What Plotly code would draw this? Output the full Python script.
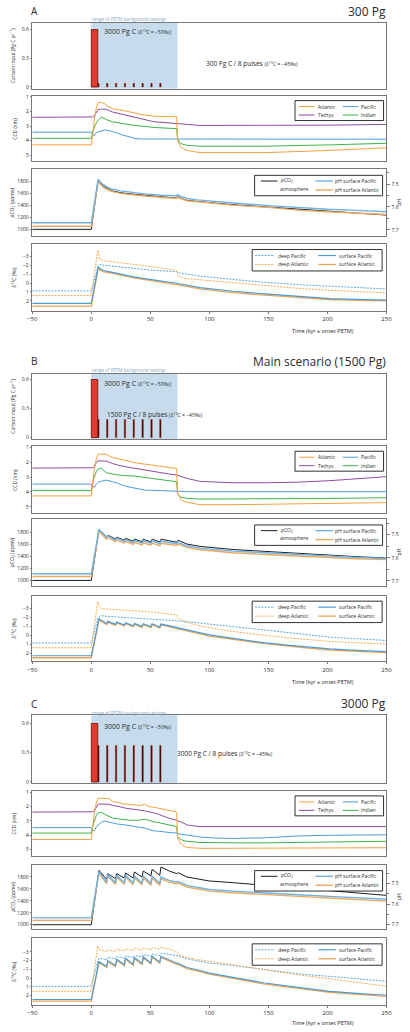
import plotly.graph_objects as go

# ============================ DATA ============================
X_TICKS = [-50, 0, 50, 100, 150, 200, 250]
BG_RANGE = [0, 73]                      # range of PETM background settings (kyr)
MAIN_PULSE_T = [2.75]                    # main 3000 Pg C pulse centre (kyr)
MAIN_PULSE_DUR = [5.5]
MAIN_PULSE_RATE = [0.6]
PULSE_T = [6, 13.5, 21, 28.5, 36, 43.5, 51, 58.5]
PULSE_DUR = [1.2, 1.2, 1.2, 1.2, 1.2, 1.2, 1.2, 1.2]
A_PULSE_RATE = [0.0375, 0.0375, 0.0375, 0.0375, 0.0375, 0.0375, 0.0375, 0.0375]
B_PULSE_RATE = [0.1875, 0.1875, 0.1875, 0.1875, 0.1875, 0.1875, 0.1875, 0.1875]
C_PULSE_RATE = [0.375, 0.375, 0.375, 0.375, 0.375, 0.375, 0.375, 0.375]

# ---------- Panel A (300 Pg) ----------
A_T_CCD = [-50, 0, 1, 2.5, 4.4, 5.8, 8.5, 11.3, 12.6, 18, 26, 29, 35, 37, 43, 46, 51, 54, 65, 72.3, 73.1, 75.8, 78.6, 81.3, 92, 147, 202, 250]
A_CCD_ATL = [4.29, 4.29, 3.7, 2.6, 1.7, 1.40, 1.40, 1.45, 1.56, 1.82, 1.92, 1.96, 2.06, 2.11, 2.22, 2.27, 2.31, 2.33, 2.35, 2.36, 4.0, 4.44, 4.6, 4.67, 4.82, 4.82, 4.67, 4.49]
A_CCD_TET = [2.40, 2.40, 2.38, 2.3, 2.0, 1.87, 1.84, 1.84, 1.86, 2.04, 2.2, 2.27, 2.36, 2.40, 2.55, 2.6, 2.67, 2.71, 2.8, 2.82, 2.83, 2.85, 2.87, 2.89, 2.96, 2.96, 2.94, 2.89]
A_CCD_IND = [3.84, 3.84, 3.5, 3.1, 2.78, 2.6, 2.38, 2.5, 2.56, 2.71, 2.84, 2.89, 2.94, 2.96, 3.02, 3.05, 3.07, 3.1, 3.15, 3.18, 3.9, 4.2, 4.27, 4.32, 4.38, 4.38, 4.29, 4.18]
A_CCD_PAC = [3.42, 3.42, 3.56, 3.67, 3.44, 3.40, 3.36, 3.27, 3.28, 3.38, 3.6, 3.68, 3.82, 3.85, 3.89, 3.89, 3.89, 3.89, 3.89, 3.89, 3.9, 3.91, 3.9, 3.9, 3.9, 3.9, 3.9, 3.9]

A_T_P = [-50, 0, 5.8, 8, 10, 14, 18, 25, 30, 37, 45, 51, 60, 72, 73, 75, 81, 90, 100, 120, 150, 175, 200, 225, 250]
A_PCO2 = [1000, 1000, 1823, 1770, 1728, 1680, 1644, 1615, 1600, 1588, 1575, 1565, 1545, 1526, 1555, 1530, 1487, 1465, 1450, 1414, 1375, 1336, 1305, 1272, 1240]
A_PH_PAC = [7.669, 7.669, 7.480, 7.493, 7.503, 7.515, 7.523, 7.530, 7.534, 7.539, 7.543, 7.545, 7.549, 7.551, 7.546, 7.552, 7.563, 7.569, 7.574, 7.583, 7.594, 7.603, 7.610, 7.615, 7.621]
A_PH_ATL = [7.684, 7.684, 7.490, 7.503, 7.513, 7.525, 7.533, 7.541, 7.545, 7.548, 7.552, 7.555, 7.559, 7.563, 7.556, 7.562, 7.573, 7.578, 7.582, 7.592, 7.602, 7.614, 7.621, 7.628, 7.633]

A_T_DEEP = [-50, 0, 5.5, 7.1, 9.9, 18, 37, 51, 70, 72.3, 73.5, 76, 81, 92, 120, 147, 175, 202, 225, 250]
A_D13_DPAC = [0.88, 0.88, -1.7, -2.06, -2.0, -1.88, -1.58, -1.43, -1.28, -1.25, -1.15, -1.1, -1.0, -0.77, -0.40, -0.07, 0.18, 0.37, 0.52, 0.66]
A_D13_DATL = [1.40, 1.40, -3.68, -2.68, -2.5, -2.35, -2.06, -1.84, -1.45, -1.40, -0.75, -0.62, -0.48, -0.35, 0.0, 0.33, 0.59, 0.81, 0.96, 1.10]
A_T_SURF = [-50, 0, 5.8, 9.9, 18, 37, 51, 72.3, 73.5, 92, 120, 147, 175, 202, 225, 250]
A_D13_SPAC = [2.28, 2.28, -1.76, -1.40, -1.18, -0.66, -0.37, 0.0, 0.05, 0.51, 0.92, 1.21, 1.47, 1.73, 1.82, 1.91]
A_D13_SATL = [2.57, 2.57, -1.58, -1.28, -1.07, -0.55, -0.26, 0.15, 0.2, 0.66, 1.07, 1.36, 1.62, 1.84, 1.93, 1.99]

# ---------- Panel B (main scenario, 1500 Pg) ----------
B_T_CCD = [-50, 0, 1, 2.5, 4.4, 5.8, 8.5, 12.6, 18, 22, 29, 37, 45, 51, 56, 65, 72.3, 73.1, 75.8, 78.6, 81.3, 92, 120, 147, 175, 202, 250]
B_CCD_ATL = [4.27, 4.27, 3.6, 2.5, 1.7, 1.45, 1.45, 1.46, 1.67, 1.75, 1.9, 2.03, 2.12, 2.2, 2.26, 2.34, 2.41, 4.09, 4.5, 4.65, 4.7, 4.86, 4.86, 4.83, 4.8, 4.77, 4.72]
B_CCD_TET = [2.39, 2.39, 2.37, 2.3, 2.0, 1.9, 1.9, 1.92, 2.08, 2.18, 2.3, 2.41, 2.55, 2.59, 2.65, 2.78, 2.86, 2.88, 2.95, 3.02, 3.09, 3.29, 3.38, 3.38, 3.34, 3.24, 2.97]
B_CCD_IND = [3.91, 3.91, 3.5, 3.0, 2.6, 2.45, 2.41, 2.7, 2.79, 2.85, 2.9, 2.93, 3.02, 3.09, 3.15, 3.25, 3.31, 4.14, 4.35, 4.4, 4.43, 4.48, 4.48, 4.48, 4.46, 4.44, 4.39]
B_CCD_PAC = [3.47, 3.47, 3.6, 3.69, 3.45, 3.35, 3.28, 3.2, 3.31, 3.4, 3.62, 3.76, 3.87, 3.89, 3.9, 3.91, 3.91, 3.93, 3.96, 3.97, 3.98, 3.98, 3.98, 3.98, 3.98, 3.98, 3.98]

B_T = [-50, 0, 6.5, 13, 14, 20.5, 21.5, 28, 29, 35.5, 36.5, 43, 44, 50.5, 51.5, 58, 59, 66, 72.3, 73.5, 81, 92, 100, 120, 147, 175, 202, 225, 250]
B_PCO2 = [1000, 1000, 1845, 1728, 1755, 1690, 1720, 1668, 1702, 1652, 1690, 1645, 1685, 1642, 1685, 1640, 1685, 1660, 1638, 1670, 1606, 1567, 1550, 1515, 1484, 1450, 1417, 1395, 1373]
B_PH_PAC = [7.669, 7.669, 7.477, 7.511, 7.504, 7.523, 7.515, 7.529, 7.521, 7.534, 7.525, 7.536, 7.527, 7.537, 7.528, 7.539, 7.529, 7.534, 7.539, 7.533, 7.548, 7.558, 7.562, 7.571, 7.578, 7.586, 7.593, 7.598, 7.603]
B_PH_ATL = [7.681, 7.681, 7.486, 7.519, 7.512, 7.530, 7.523, 7.537, 7.529, 7.542, 7.533, 7.544, 7.535, 7.545, 7.536, 7.547, 7.537, 7.542, 7.547, 7.541, 7.555, 7.565, 7.569, 7.578, 7.586, 7.593, 7.599, 7.604, 7.608]

B_T_DEEP = [-50, 0, 5.5, 8, 13, 20, 28, 36, 44, 51, 59, 66, 72.3, 73.5, 76, 81, 92, 100, 120, 147, 175, 202, 225, 250]
B_D13_DPAC = [0.85, 0.85, -1.9, -2.2, -2.12, -2.05, -2.0, -1.93, -1.87, -1.8, -1.74, -1.68, -1.63, -1.62, -1.58, -1.52, -1.37, -1.27, -1.0, -0.6, -0.19, 0.19, 0.38, 0.56]
B_D13_DATL = [1.37, 1.37, -3.74, -3.0, -2.93, -2.88, -2.83, -2.78, -2.7, -2.6, -2.48, -2.38, -2.26, -1.9, -1.74, -1.45, -1.05, -0.85, -0.44, 0.0, 0.37, 0.67, 0.82, 0.96]
B_D13_SPAC = [2.26, 2.26, -1.85, -1.30, -1.56, -1.22, -1.48, -1.15, -1.41, -1.07, -1.33, -1.0, -1.30, -0.96, -1.30, -0.93, -1.26, -1.05, -0.9, -0.88, -0.65, -0.3, -0.05, 0.33, 0.82, 1.2, 1.5, 1.66, 1.8]
B_D13_SATL = [2.48, 2.48, -1.72, -1.2, -1.45, -1.12, -1.38, -1.05, -1.31, -0.97, -1.23, -0.9, -1.2, -0.86, -1.2, -0.83, -1.16, -0.95, -0.8, -0.76, -0.53, -0.18, 0.07, 0.45, 0.92, 1.3, 1.62, 1.78, 1.92]

# ---------- Panel C (3000 Pg) ----------
C_T_CCD = [-50, 0, 1, 2.5, 4.4, 5.8, 8.5, 11.3, 15, 18, 22, 26, 29, 33, 37, 41, 45, 49, 53, 57, 61, 65, 72.3, 73.1, 75.8, 78.6, 81.3, 92, 105, 120, 147, 175, 202, 250]
C_CCD_ATL = [4.30, 4.30, 3.6, 2.5, 1.7, 1.43, 1.43, 1.44, 1.45, 1.65, 1.75, 1.8, 1.83, 1.88, 1.9, 1.93, 1.85, 2.02, 2.05, 2.12, 2.22, 2.28, 2.39, 4.19, 4.6, 4.75, 4.85, 4.91, 4.91, 4.91, 4.91, 4.91, 4.9, 4.87]
C_CCD_TET = [2.39, 2.39, 2.37, 2.3, 2.0, 1.85, 1.83, 1.83, 1.85, 1.92, 1.97, 2.05, 2.12, 2.18, 2.21, 2.25, 2.3, 2.36, 2.45, 2.55, 2.68, 2.8, 2.96, 3.0, 3.07, 3.18, 3.29, 3.4, 3.4, 3.4, 3.4, 3.4, 3.4, 3.4]
C_CCD_IND = [3.85, 3.85, 3.4, 3.0, 2.6, 2.45, 2.39, 2.55, 2.7, 2.8, 2.85, 2.9, 2.93, 2.96, 2.96, 2.95, 2.88, 3.0, 3.07, 3.12, 3.2, 3.25, 3.4, 4.1, 4.3, 4.38, 4.42, 4.5, 4.53, 4.53, 4.53, 4.5, 4.46, 4.42]
C_CCD_PAC = [3.47, 3.47, 3.6, 3.70, 3.4, 3.29, 3.1, 3.02, 3.1, 3.18, 3.22, 3.25, 3.29, 3.32, 3.4, 3.42, 3.5, 3.6, 3.7, 3.72, 3.78, 3.8, 3.85, 3.88, 3.92, 3.95, 4.0, 4.12, 4.2, 4.22, 4.18, 4.05, 4.0, 3.97]

C_T = [-50, 0, 6.5, 13, 14, 20.5, 21.5, 28, 29, 35.5, 36.5, 43, 44, 50.5, 51.5, 58, 59, 66, 72.3, 73.5, 81, 92, 100, 120, 147, 175, 202, 225, 250]
C_PCO2 = [1000, 1000, 1912, 1761, 1856, 1772, 1856, 1783, 1867, 1783, 1884, 1800, 1900, 1817, 1929, 1828, 1968, 1900, 1856, 1873, 1800, 1761, 1733, 1705, 1660, 1621, 1576, 1540, 1492]
C_PH_PAC = [7.667, 7.667, 7.440, 7.492, 7.456, 7.495, 7.459, 7.495, 7.459, 7.497, 7.463, 7.497, 7.463, 7.498, 7.464, 7.498, 7.467, 7.484, 7.492, 7.489, 7.508, 7.521, 7.528, 7.536, 7.546, 7.554, 7.562, 7.570, 7.576]
C_PH_ATL = [7.679, 7.679, 7.448, 7.500, 7.464, 7.503, 7.467, 7.503, 7.467, 7.505, 7.471, 7.505, 7.471, 7.507, 7.472, 7.507, 7.476, 7.492, 7.500, 7.497, 7.516, 7.529, 7.536, 7.544, 7.554, 7.562, 7.570, 7.578, 7.585]

C_T_DEEP = [-50, 0, 5.5, 6.5, 13, 14, 20.5, 21.5, 28, 29, 35.5, 36.5, 43, 44, 50.5, 51.5, 58, 59, 66, 72.3, 73.5, 81, 92, 100, 120, 147, 175, 202, 225, 250]
C_D13_DPAC = [0.95, 0.95, -1.9, -2.27, -2.1, -2.39, -2.2, -2.45, -2.28, -2.52, -2.35, -2.6, -2.42, -2.68, -2.5, -2.75, -2.58, -2.84, -2.7, -2.58, -2.55, -2.2, -1.89, -1.72, -1.44, -0.95, -0.49, -0.19, 0.1, 0.38]
C_D13_DATL = [1.52, 1.52, -3.71, -3.3, -3.03, -3.25, -3.05, -3.3, -3.1, -3.35, -3.15, -3.4, -3.2, -3.45, -3.25, -3.5, -3.3, -3.52, -3.3, -3.03, -2.7, -2.35, -2.08, -1.9, -1.52, -0.95, -0.38, 0.08, 0.5, 0.95]
C_D13_SPAC = [2.46, 2.46, -1.89, -1.33, -2.0, -1.44, -2.16, -1.52, -2.27, -1.59, -2.35, -1.67, -2.42, -1.74, -2.5, -1.82, -2.5, -2.05, -1.7, -1.68, -1.21, -0.87, -0.57, -0.08, 0.57, 1.06, 1.52, 1.75, 1.97]
C_D13_SATL = [2.65, 2.65, -1.77, -1.21, -1.88, -1.32, -2.04, -1.40, -2.15, -1.47, -2.23, -1.55, -2.3, -1.62, -2.38, -1.7, -2.38, -1.93, -1.58, -1.56, -1.09, -0.75, -0.45, 0.04, 0.69, 1.18, 1.64, 1.87, 2.09]

# ============================ STYLE / LAYOUT ============================
W, H = 410, 1032
XL, XR = 28, 392
FONT = "Open Sans"
FRAME = "#777777"
TXT = "#2a2a2a"
ORANGE = "#F4A13E"
BLUE = "#4A9ED8"
PURPLE = "#8C4A9E"
GREEN = "#3DB24B"
BLACK = "#1b1b27"
PH_BLUE = "#6FB1E2"
PH_ORANGE = "#ECA95E"
SHADE = "#C6DCEC"

PANELS = [
    dict(letter="A", title="300 Pg", rows=[(21, 87), (94, 160), (168, 235), (243, 310)],
         title_y=9.5, rng_y=16.7, time_y=330,
         c_range=[-0.018, 0.67], p_range=[887, 2008], ph_range=[7.727, 7.436], d_range=[3.1, -4.35],
         rate=A_PULSE_RATE, txt1=(9.9, 0.58), txt2=(96.4, 0.248), total="300", c_title=True,
         t_ccd=A_T_CCD, ccd=(A_CCD_ATL, A_CCD_PAC, A_CCD_TET, A_CCD_IND),
         t_p=A_T_P, pco2=A_PCO2, ph_pac=A_PH_PAC, ph_atl=A_PH_ATL,
         t_deep=A_T_DEEP, dpac=A_D13_DPAC, datl=A_D13_DATL,
         t_surf=A_T_SURF, spac=A_D13_SPAC, satl=A_D13_SATL),
    dict(letter="B", title="Main scenario (1500 Pg)", rows=[(373, 439), (446, 513), (519, 586), (596, 662)],
         title_y=360.5, rng_y=369.3, time_y=683,
         c_range=[-0.018, 0.662], p_range=[912, 2023], ph_range=[7.721, 7.432], d_range=[2.89, -4.41],
         rate=B_PULSE_RATE, txt1=(9.9, 0.562), txt2=(12.4, 0.24), total="1500", c_title=True,
         t_ccd=B_T_CCD, ccd=(B_CCD_ATL, B_CCD_PAC, B_CCD_TET, B_CCD_IND),
         t_p=B_T, pco2=B_PCO2, ph_pac=B_PH_PAC, ph_atl=B_PH_ATL,
         t_deep=B_T_DEEP, dpac=B_D13_DPAC, datl=B_D13_DATL,
         t_surf=B_T, spac=B_D13_SPAC, satl=B_D13_SATL),
    dict(letter="C", title="3000 Pg", rows=[(716, 784), (792, 857), (866, 931), (940, 1007)],
         title_y=704.5, rng_y=713.3, time_y=1025,
         c_range=[-0.01, 0.684], p_range=[922, 2007], ph_range=[7.723, 7.407], d_range=[3.1, -4.55],
         rate=C_PULSE_RATE, txt1=(9.9, 0.573), txt2=(71.7, 0.295), total="3000", c_title=False,
         t_ccd=C_T_CCD, ccd=(C_CCD_ATL, C_CCD_PAC, C_CCD_TET, C_CCD_IND),
         t_p=C_T, pco2=C_PCO2, ph_pac=C_PH_PAC, ph_atl=C_PH_ATL,
         t_deep=C_T_DEEP, dpac=C_D13_DPAC, datl=C_D13_DATL,
         t_surf=C_T, spac=C_D13_SPAC, satl=C_D13_SATL),
]

fig = go.Figure()
layout = {}
shapes = []
annotations = []


def axname(n, letter):
    return letter if n == 1 else f"{letter}{n}"


def laykey(n, letter):
    return f"{letter}axis" if n == 1 else f"{letter}axis{n}"


def pxx(p):
    return p / W


def pxy(p):
    return 1 - p / H


def add_axes(n, top, bottom, yrange, show_x, tickvals, ticktext):
    layout[laykey(n, "x")] = dict(
        domain=[pxx(XL), pxx(XR)], range=[-50, 250], anchor=axname(n, "y"),
        showline=True, mirror=True, linecolor=FRAME, linewidth=1,
        showgrid=False, zeroline=False, tickvals=X_TICKS,
        showticklabels=show_x, ticks="outside" if show_x else "", ticklen=2,
        tickcolor=FRAME, tickfont=dict(size=6, color=TXT, family=FONT))
    layout[laykey(n, "y")] = dict(
        domain=[pxy(bottom), pxy(top)], range=yrange, anchor=axname(n, "x"),
        showline=True, mirror=True, linecolor=FRAME, linewidth=1,
        showgrid=False, zeroline=False, tickvals=tickvals, ticktext=ticktext,
        ticks="outside", ticklen=1.5, tickcolor=FRAME,
        tickfont=dict(size=5, color=TXT, family=FONT))


def line(n, x, y, color, width, dash="solid", yn=None):
    fig.add_trace(go.Scatter(
        x=x, y=y, mode="lines", line=dict(color=color, width=width, dash=dash),
        xaxis=axname(n, "x"), yaxis=axname(yn if yn else n, "y"),
        showlegend=False, hoverinfo="skip"))


def text(x, y, s, size, color=TXT, xanchor="left", angle=0, xref="paper", yref="paper"):
    annotations.append(dict(
        x=x, y=y, xref=xref, yref=yref, text=s, showarrow=False,
        xanchor=xanchor, yanchor="middle", textangle=angle, borderpad=0,
        font=dict(size=size, color=color, family=FONT)))


def legend(box, entries):
    x0, x1, y0, y1 = box
    shapes.append(dict(type="rect", xref="paper", yref="paper",
                       x0=pxx(x0), x1=pxx(x1), y0=pxy(y1), y1=pxy(y0),
                       line=dict(color="#1a1a1a", width=0.9), fillcolor="white", layer="above"))
    for e in entries:
        sx0, sx1, sy, color, dash, width, label, tx, ty = e
        if color:
            shapes.append(dict(type="line", xref="paper", yref="paper",
                               x0=pxx(sx0), x1=pxx(sx1), y0=pxy(sy), y1=pxy(sy),
                               line=dict(color=color, width=width, dash=dash), layer="above"))
        text(pxx(tx), pxy(ty), label, 5)


D13 = "δ<sup>13</sup>C"

for i, P in enumerate(PANELS):
    base = i * 4
    n1, n2, n3, n4 = base + 1, base + 2, base + 3, base + 4
    nph = 13 + i
    r = P["rows"]
    add_axes(n1, *r[0], P["c_range"], False, [0, 0.3, 0.6], ["0", "0.3", "0.6"])
    add_axes(n2, *r[1], [5.42, 0.92], False, [1, 2, 3, 4, 5], ["1", "2", "3", "4", "5"])
    add_axes(n3, *r[2], P["p_range"], False, [1000, 1200, 1400, 1600, 1800],
             ["1000", "1200", "1400", "1600", "1800"])
    add_axes(n4, *r[3], P["d_range"], True, [-3, -2, -1, 0, 1, 2],
             ["−3", "−2", "−1", "0", "1", "2"])
    layout[laykey(nph, "y")] = dict(
        overlaying=axname(n3, "y"), side="right", anchor=axname(n3, "x"),
        range=P["ph_range"], showline=False, showgrid=False, zeroline=False,
        tickvals=[7.5, 7.6, 7.7], ticktext=["7.5", "7.6", "7.7"],
        ticks="outside", ticklen=3, tickcolor=FRAME,
        minor=dict(tickvals=[7.45, 7.55, 7.65], ticks="outside", ticklen=2, tickcolor=FRAME),
        tickfont=dict(size=5, color=TXT, family=FONT))

    # ---- carbon input ----
    shapes.append(dict(type="rect", xref=axname(n1, "x"), yref=axname(n1, "y") + " domain",
                       x0=BG_RANGE[0], x1=BG_RANGE[1], y0=0, y1=1,
                       fillcolor=SHADE, line=dict(width=0), layer="below"))
    fig.add_trace(go.Bar(x=MAIN_PULSE_T, y=MAIN_PULSE_RATE, width=MAIN_PULSE_DUR,
                         marker=dict(color="#E23B2F", line=dict(color="#6E1A12", width=0.9)),
                         xaxis=axname(n1, "x"), yaxis=axname(n1, "y"),
                         showlegend=False, hoverinfo="skip"))
    fig.add_trace(go.Bar(x=PULSE_T, y=P["rate"], width=PULSE_DUR,
                         marker=dict(color="#240606", line=dict(color="#B42A24", width=0.5)),
                         xaxis=axname(n1, "x"), yaxis=axname(n1, "y"),
                         showlegend=False, hoverinfo="skip"))
    text(P["txt1"][0], P["txt1"][1],
         "3000 Pg C <span style='font-size:5px'>(" + D13 + " = −50‰)</span>", 7,
         xref=axname(n1, "x"), yref=axname(n1, "y"))
    text(P["txt2"][0], P["txt2"][1],
         P["total"] + " Pg C / 8 pulses <span style='font-size:5px'>(" + D13 + " = −45‰)</span>", 6.5,
         xref=axname(n1, "x"), yref=axname(n1, "y"))

    # ---- CCD ----
    atl, pac, tet, ind = P["ccd"]
    line(n2, P["t_ccd"], tet, PURPLE, 1)
    line(n2, P["t_ccd"], pac, BLUE, 1)
    line(n2, P["t_ccd"], ind, GREEN, 1)
    line(n2, P["t_ccd"], atl, ORANGE, 1)

    # ---- pCO2 / pH ----
    line(n3, P["t_p"], P["pco2"], BLACK, 1)
    line(n3, P["t_p"], P["ph_atl"], PH_ORANGE, 1.4, yn=nph)
    line(n3, P["t_p"], P["ph_pac"], PH_BLUE, 1.4, yn=nph)

    # ---- d13C ----
    line(n4, P["t_deep"], P["dpac"], BLUE, 0.9, dash="2px,1.2px")
    line(n4, P["t_deep"], P["datl"], ORANGE, 0.9, dash="2px,1.2px")
    line(n4, P["t_surf"], P["satl"], "#EDA452", 1.3)
    line(n4, P["t_surf"], P["spac"], "#4E9AD3", 1.2)

    # ---- texts ----
    text(pxx(26), pxy(P["title_y"]), P["letter"], 10)
    text(pxx(393), pxy(P["title_y"]), P["title"], 12, xanchor="right")
    text(pxx(88.5), pxy(P["rng_y"]), "range of PETM background settings", 4.5, color="#84A8C6")
    text(pxx(326.7), pxy(P["time_y"]), "Time (kyr ± onset PETM)", 5.5, xanchor="center")
    if P["c_title"]:
        text(pxx(7.5), pxy((r[0][0] + r[0][1]) / 2), "Carbon input (Pg C yr<sup>−1</sup>)", 5,
             xanchor="center", angle=-90)
    text(pxx(9.5), pxy((r[1][0] + r[1][1]) / 2), "CCD (km)", 5, xanchor="center", angle=-90)
    text(pxx(8), pxy((r[2][0] + r[2][1]) / 2), "<i>p</i>CO<sub>2</sub> (ppmv)", 5,
         xanchor="center", angle=-90)
    text(pxx(8.5), pxy((r[3][0] + r[3][1]) / 2), D13 + " (‰)", 5, xanchor="center", angle=-90)
    text(pxx(405), pxy((r[2][0] + r[2][1]) / 2), "pH", 5, xanchor="center", angle=-90)

    # ---- legends ----
    T = r[1][0]
    legend((298, 389, T + 5, T + 25), [
        (302, 318, T + 11, ORANGE, "solid", 1, "Atlantic", 320.5, T + 11),
        (347, 363, T + 11, BLUE, "solid", 1, "Pacific", 364.5, T + 11),
        (302, 318, T + 19.5, PURPLE, "solid", 1, "Tethys", 320.5, T + 19.5),
        (347, 363, T + 19.5, GREEN, "solid", 1, "Indian", 364.5, T + 19.5),
    ])
    T = r[2][0]
    legend((256.5, 388, T + 6, T + 26.5), [
        (263, 280, T + 11.7, BLACK, "solid", 1, "<i>p</i>CO<sub>2</sub>", 282, T + 11.3),
        (0, 0, 0, None, "solid", 1, "atmosphere", 282, T + 19.5),
        (319, 337, T + 11.7, PH_BLUE, "solid", 1.4, "pH surface Pacific", 338.5, T + 11.7),
        (319, 337, T + 20.7, PH_ORANGE, "solid", 1.4, "pH surface Atlantic", 338.5, T + 20.7),
    ])
    T = r[3][0]
    legend((254, 387.5, T + 5.5, T + 27), [
        (257, 277, T + 11.5, BLUE, "2px,1.2px", 0.9, "deep Pacific", 279.5, T + 11.5),
        (257, 277, T + 20.5, ORANGE, "2px,1.2px", 0.9, "deep Atlantic", 279.5, T + 20.5),
        (322, 340, T + 11.5, "#4E9AD3", "solid", 1.2, "surface Pacific", 342.5, T + 11.5),
        (322, 340, T + 20.5, "#EDA452", "solid", 1.3, "surface Atlantic", 342.5, T + 20.5),
    ])

fig.update_layout(
    width=W, height=H, margin=dict(l=0, r=0, t=0, b=0),
    paper_bgcolor="white", plot_bgcolor="white",
    barmode="overlay", showlegend=False, hovermode=False,
    font=dict(family=FONT, color=TXT),
    shapes=shapes, annotations=annotations, **layout)

fig.write_html("out.html", config={"displayModeBar": False, "staticPlot": True},
               post_script="document.body.style.margin='0';document.body.style.overflow='hidden';")
